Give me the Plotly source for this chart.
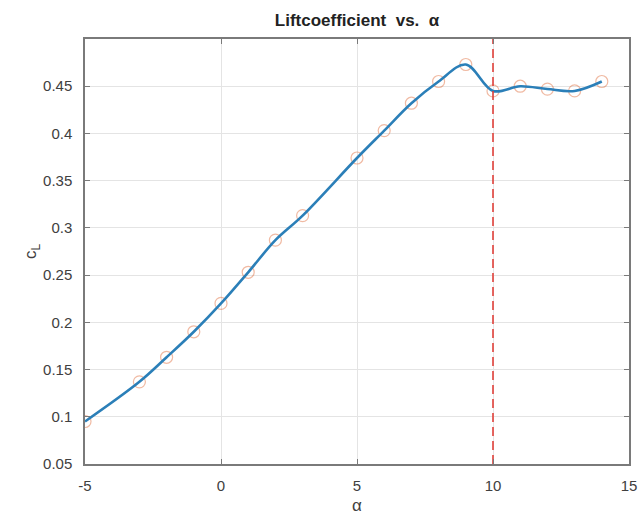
import plotly.graph_objects as go

alpha = [-5, -3, -2, -1, 0, 1, 2, 3, 5, 6, 7, 8, 9, 10, 11, 12, 13, 14]
cl = [0.095, 0.137, 0.163, 0.190, 0.220, 0.253, 0.287, 0.313, 0.374, 0.403,
      0.432, 0.455, 0.473, 0.445, 0.450, 0.447, 0.445, 0.455]
stall_alpha = 10
x_ticks = [-5, 0, 5, 10, 15]
x_tick_text = ["-5", "0", "5", "10", "15"]
y_ticks = [0.05, 0.1, 0.15, 0.2, 0.25, 0.3, 0.35, 0.4, 0.45]
y_tick_text = ["0.05", "0.1", "0.15", "0.2", "0.25", "0.3", "0.35", "0.4", "0.45"]

font_family = "Liberation Sans, Arial, sans-serif"

fig = go.Figure()
fig.add_trace(go.Scatter(
    x=alpha, y=cl, mode="markers",
    marker=dict(symbol="circle-open", size=12,
                color="rgba(217,83,25,0.40)", line=dict(width=1.2)),
    showlegend=False, hoverinfo="skip"))
fig.add_trace(go.Scatter(
    x=alpha, y=cl, mode="lines", line_shape="spline",
    line=dict(color="#2b7fb8", width=2.6, smoothing=1.0),
    showlegend=False))
fig.add_trace(go.Scatter(
    x=[stall_alpha, stall_alpha], y=[0.05, 0.5], mode="lines",
    line=dict(color="#e0403a", width=1.6, dash="9px,5px"),
    showlegend=False))

axis_common = dict(
    showgrid=True, gridcolor="#e4e4e4", gridwidth=1,
    showline=True, linecolor="#7a7a7a", linewidth=1.5, mirror="ticks",
    ticks="inside", ticklen=5, tickcolor="#7a7a7a",
    zeroline=False, automargin=False,
    tickfont=dict(family=font_family, size=15, color="#404040"),
)

fig.update_layout(
    width=642, height=520,
    paper_bgcolor="white", plot_bgcolor="white",
    margin=dict(l=85, r=13, t=39, b=56),
    title=dict(text="<b>Liftcoefficient  vs.  α</b>", x=0.5, xanchor="center",
               xref="paper", y=1 - 20 / 520, yref="container", yanchor="middle",
               font=dict(family=font_family, size=17, color="#222222")),
    xaxis=dict(range=[-5, 15], tickvals=x_ticks, ticktext=x_tick_text,
               ticklabelstandoff=7,
               title=dict(text="α", font=dict(family=font_family, size=17, color="#404040"),
                          standoff=6),
               **axis_common),
    yaxis=dict(range=[0.05, 0.5], tickvals=y_ticks, ticktext=y_tick_text,
               ticklabelstandoff=8,
               title=dict(text="c<sub>L</sub>", font=dict(family=font_family, size=17, color="#404040"),
                          standoff=2),
               **axis_common),
)

fig.write_html("out.html", config={"displayModeBar": False},
               post_script="document.body.style.margin='0';document.body.style.padding='0';")
